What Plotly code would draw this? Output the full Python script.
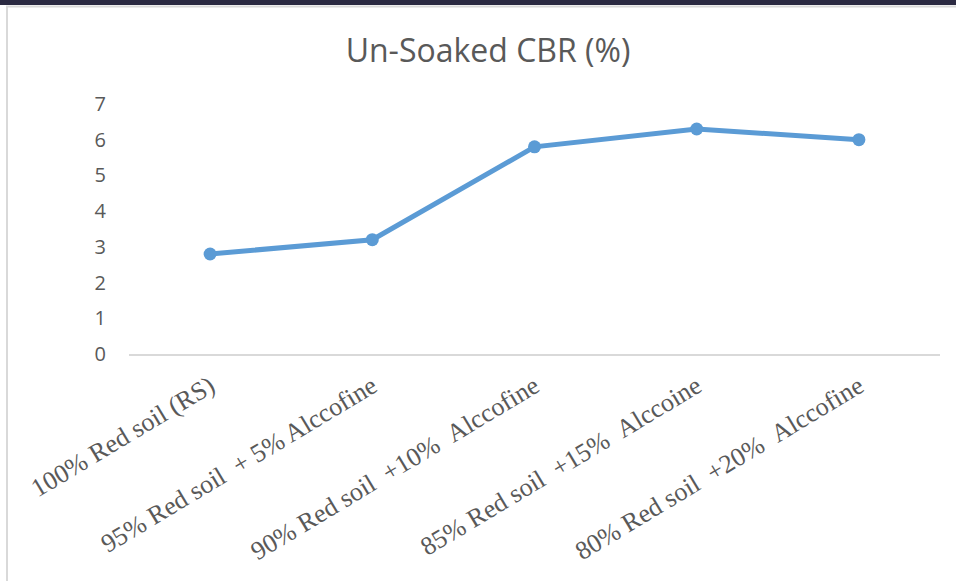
import plotly.graph_objects as go

NB = "\u00a0"
categories = [
    "100% Red soil (RS)",
    "95% Red soil " + NB + "+ 5% Alccofine",
    "90% Red soil " + NB + "+10% " + NB + "Alccofine",
    "85% Red soil " + NB + "+15% " + NB + "Alccoine",
    "80% Red soil " + NB + "+20% " + NB + "Alccofine",
]
cbr_values = [2.8, 3.2, 5.8, 6.3, 6.0]
y_ticks = [0, 1, 2, 3, 4, 5, 6, 7]

W, H = 956, 581
L, R, T, B = 129, 16, 104, 227

fig = go.Figure()
fig.add_trace(go.Scatter(
    x=categories, y=cbr_values, mode="lines+markers",
    line=dict(color="#5b9bd5", width=5),
    marker=dict(color="#5b9bd5", size=13),
    showlegend=False,
))

def px(xp):
    return (xp - L) / (W - L - R)

def py(yp):
    return (H - B - yp) / (H - T - B)

fig.update_layout(
    width=W, height=H,
    margin=dict(l=L, r=R, t=T, b=B, autoexpand=False),
    paper_bgcolor="white", plot_bgcolor="white",
    title=dict(text="Un-Soaked CBR (%)", x=488 / W, xref="container", xanchor="center",
               y=1 - 51 / H, yref="container", yanchor="middle",
               font=dict(family="Open Sans, Liberation Sans, sans-serif", size=32, color="#595959")),
    xaxis=dict(
        type="category", range=[-0.5, len(categories) - 0.5], automargin=False,
        showgrid=False, showline=True, linecolor="#d9d9d9", linewidth=2,
        ticks="", tickangle=-31, ticklabelstandoff=5,
        tickfont=dict(family="Liberation Serif, Times New Roman, serif", size=26, color="#595959"),
        zeroline=False,
    ),
    yaxis=dict(
        range=[0, 7], tickvals=y_ticks, showgrid=False, zeroline=False, showline=False,
        ticks="", ticklabelstandoff=22, automargin=False,
        tickfont=dict(family="Open Sans, Liberation Sans, sans-serif", size=20, color="#595959"),
    ),
    shapes=[
        dict(type="rect", xref="paper", yref="paper", x0=px(0), x1=px(W), y0=py(0), y1=py(5),
             fillcolor="#2b2a42", line=dict(width=0), layer="above"),
        dict(type="line", xref="paper", yref="paper", x0=px(6), x1=px(W), y0=py(6.5), y1=py(6.5),
             line=dict(color="#d9d9d9", width=2)),
        dict(type="line", xref="paper", yref="paper", x0=px(7), x1=px(7), y0=py(6), y1=py(H),
             line=dict(color="#d9d9d9", width=2)),
    ],
)

fig.write_html("out.html", config={"displayModeBar": False},
               post_script="document.body.style.margin='0';")
